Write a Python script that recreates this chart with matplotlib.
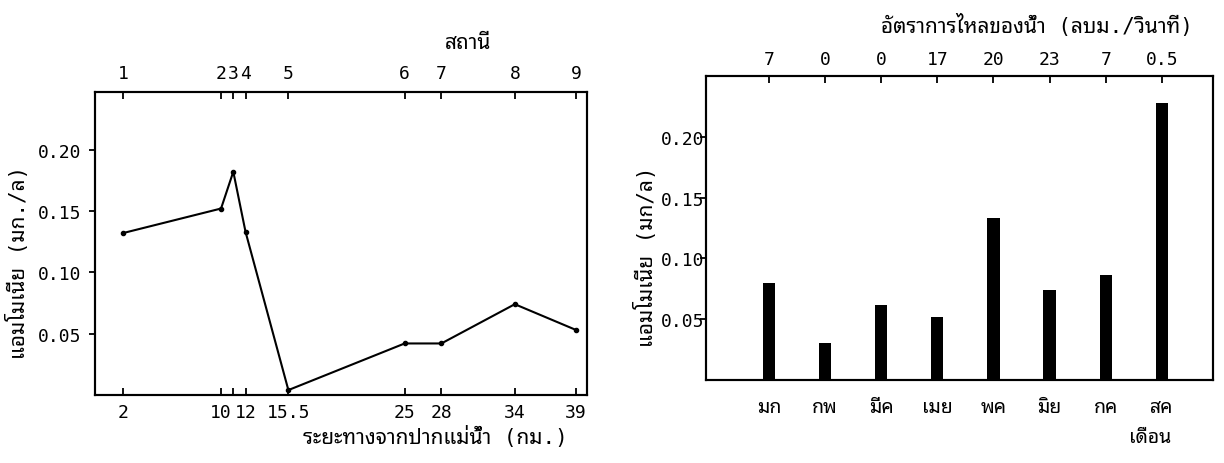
import matplotlib
matplotlib.use("Agg")
import matplotlib.pyplot as plt

# left panel: ammonia along the river
station_km = [2, 10, 11, 12, 15.5, 25, 28, 34, 39]
station_no = ["1", "2", "3", "4", "5", "6", "7", "8", "9"]
ammonia_station = [0.132, 0.152, 0.182, 0.133, 0.004, 0.042, 0.042, 0.074, 0.053]
km_labels = ["2", "10", "", "12", "15.5", "25", "28", "34", "39"]

# right panel: ammonia by month
months = ["มก", "กพ", "มีค", "เมย", "พค", "มิย", "กค", "สค"]
ammonia_month = [0.080, 0.030, 0.062, 0.052, 0.133, 0.074, 0.086, 0.228]
flow = ["7", "0", "0", "17", "20", "23", "7", "0.5"]

yticks = [0.05, 0.10, 0.15, 0.20]
ytick_labels = ["0.05", "0.10", "0.15", "0.20"]

FONTS = ["DejaVu Sans Mono", "Noto Sans Thai Looped"]
plt.rcParams["font.family"] = FONTS
plt.rcParams["axes.linewidth"] = 1.5

fig = plt.figure(figsize=(12.24, 4.64), dpi=100)

# ---- left chart
ax = fig.add_axes([0.0776, 0.1466, 0.402, 0.653])
ax.plot(station_km, ammonia_station, color="black", lw=1.5,
        marker="o", ms=3)
ax.set_xlim(-0.3, 39.9)
ax.set_ylim(0, 0.247)
ax.set_xticks(station_km)
ax.set_xticklabels(km_labels, fontsize=13)
ax.set_yticks(yticks)
ax.set_yticklabels(ytick_labels, fontsize=13)
ax.tick_params(axis="x", direction="in", length=5, width=1.3, pad=6)
ax.tick_params(axis="y", direction="out", length=4, width=1.3, pad=6)

top = ax.twiny()
top.set_xlim(ax.get_xlim())
top.set_xticks(station_km)
top.set_xticklabels(station_no, fontsize=13)
top.tick_params(axis="x", direction="in", length=5, width=1.3, pad=7)

fig.text(468 / 1224, 1 - 43 / 464, "สถานี", ha="center", va="center",
         fontsize=15)
fig.text(435 / 1224, 1 - 437 / 464, "ระยะทางจากปากแม่น้ำ (กม.)",
         ha="center", va="center", fontsize=15)
fig.text(18 / 1224, 1 - 262 / 464, "แอมโมเนีย (มก./ล)", rotation=90,
         ha="center", va="center", fontsize=15)

# ---- right chart
bx = fig.add_axes([0.5768, 0.179, 0.4142, 0.655])
pos = list(range(len(months)))
bx.bar(pos, ammonia_month, width=0.22, color="black")
bx.set_xlim(-1.12, 7.91)
bx.set_ylim(0, 0.25)
bx.set_xticks(pos)
bx.set_xticklabels(months, fontsize=14)
bx.set_yticks(yticks)
bx.set_yticklabels(ytick_labels, fontsize=13)
bx.tick_params(axis="x", length=0, pad=12)
bx.tick_params(axis="y", direction="out", length=4, width=1.3, pad=-3)

btop = bx.twiny()
btop.set_xlim(bx.get_xlim())
btop.set_xticks(pos)
btop.set_xticklabels(flow, fontsize=13)
btop.tick_params(axis="x", direction="in", length=5, width=1.3, pad=6)

fig.text(1193 / 1224, 1 - 25 / 464, "อัตราการไหลของน้ำ (ลบม./วินาที)",
         ha="right", va="center", fontsize=15)
fig.text(1150 / 1224, 1 - 438 / 464, "เดือน", ha="center", va="center",
         fontsize=14)
fig.text(646 / 1224, 1 - 257 / 464, "แอมโมเนีย (มก/ล)", rotation=90,
         ha="center", va="center", fontsize=15)

fig.savefig("out.png")
